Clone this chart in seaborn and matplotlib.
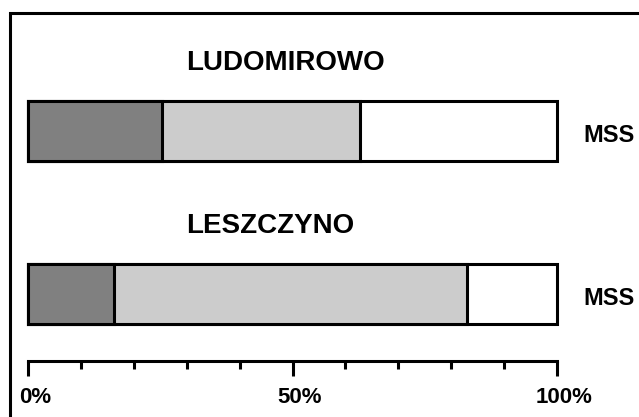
import pandas as pd
import seaborn as sns
import matplotlib.pyplot as plt
import matplotlib.transforms as mtransforms
from matplotlib.patches import Rectangle

# data (percent of each bar)
sites = ['LUDOMIROWO', 'LESZCZYNO']
dark_share = [25.4, 16.3]
light_share = [37.4, 66.7]
white_share = [37.2, 17.0]
row_label = ['MSS', 'MSS']
tick_values = [0, 50, 100]
tick_labels = ['0%', '50%', '100%']

df = pd.DataFrame({'site': sites, 'dark': dark_share, 'light': light_share, 'white': white_share})
df['cum_dark'] = df['dark']
df['cum_light'] = df['dark'] + df['light']
df['cum_white'] = df['cum_light'] + df['white']

sns.set_style('white')
plt.rcParams['font.family'] = ['Liberation Sans', 'DejaVu Sans']
plt.rcParams['font.weight'] = 'bold'
plt.rcParams['text.color'] = 'black'
plt.rcParams['xtick.labelcolor'] = 'black'
plt.rcParams['xtick.color'] = 'black'

fig = plt.figure(figsize=(6.39, 4.17), dpi=100)
ax = fig.add_axes([28 / 639, (417 - 361) / 417, 529 / 639, 341 / 417])

lw = 2.2
# draw from the longest (total) to the shortest so the segments stack
for col, colour in [('cum_white', '#ffffff'), ('cum_light', '#cccccc'), ('cum_dark', '#808080')]:
    sns.barplot(data=df, x=col, y='site', orient='h', color=colour, saturation=1,
                edgecolor='black', linewidth=lw, width=0.37, ax=ax)

for p in ax.patches:
    p.set_clip_on(False)

ax.set_xlim(0, 100)
ax.set_ylim(1.411, 1.411 - 2.092)

# site names above bars and row labels on the right
for i, name in enumerate(sites):
    ax.text(29.8, i - 0.375, name, fontsize=20, fontweight='bold', va='baseline', ha='left',
            color='black')
    ax.text(104.9, i + 0.066, row_label[i], fontsize=17, fontweight='bold', va='baseline',
            ha='left', clip_on=False, color='black')

ax.set_xlabel('')
ax.set_ylabel('')
ax.set_yticks([])
for s in ['left', 'right', 'top']:
    ax.spines[s].set_visible(False)
ax.spines['bottom'].set_linewidth(lw)
ax.spines['bottom'].set_color('black')
ax.spines['bottom'].set_bounds(0, 100)

ax.set_xticks(tick_values)
ax.set_xticklabels(tick_labels, fontsize=16, fontweight='bold', color='black')
ax.set_xticks([10, 20, 30, 40, 60, 70, 80, 90], minor=True)
ax.tick_params(axis='x', which='major', length=11, width=lw, color='black', pad=8, bottom=True)
ax.tick_params(axis='x', which='minor', length=6, width=lw, color='black', bottom=True)

# the labels in the reference sit a little to the right of their ticks
offset = mtransforms.ScaledTranslation(0.07, 0, fig.dpi_scale_trans)
for lab in ax.get_xticklabels():
    lab.set_transform(lab.get_transform() + offset)

# outer frame (cropped at right and bottom)
fig.patches.append(Rectangle((10 / 639, -0.1), 1.2, (417 - 13) / 417 + 0.1,
                             transform=fig.transFigure, fill=False, lw=lw, ec='black'))

fig.savefig('out.png', dpi=100)
